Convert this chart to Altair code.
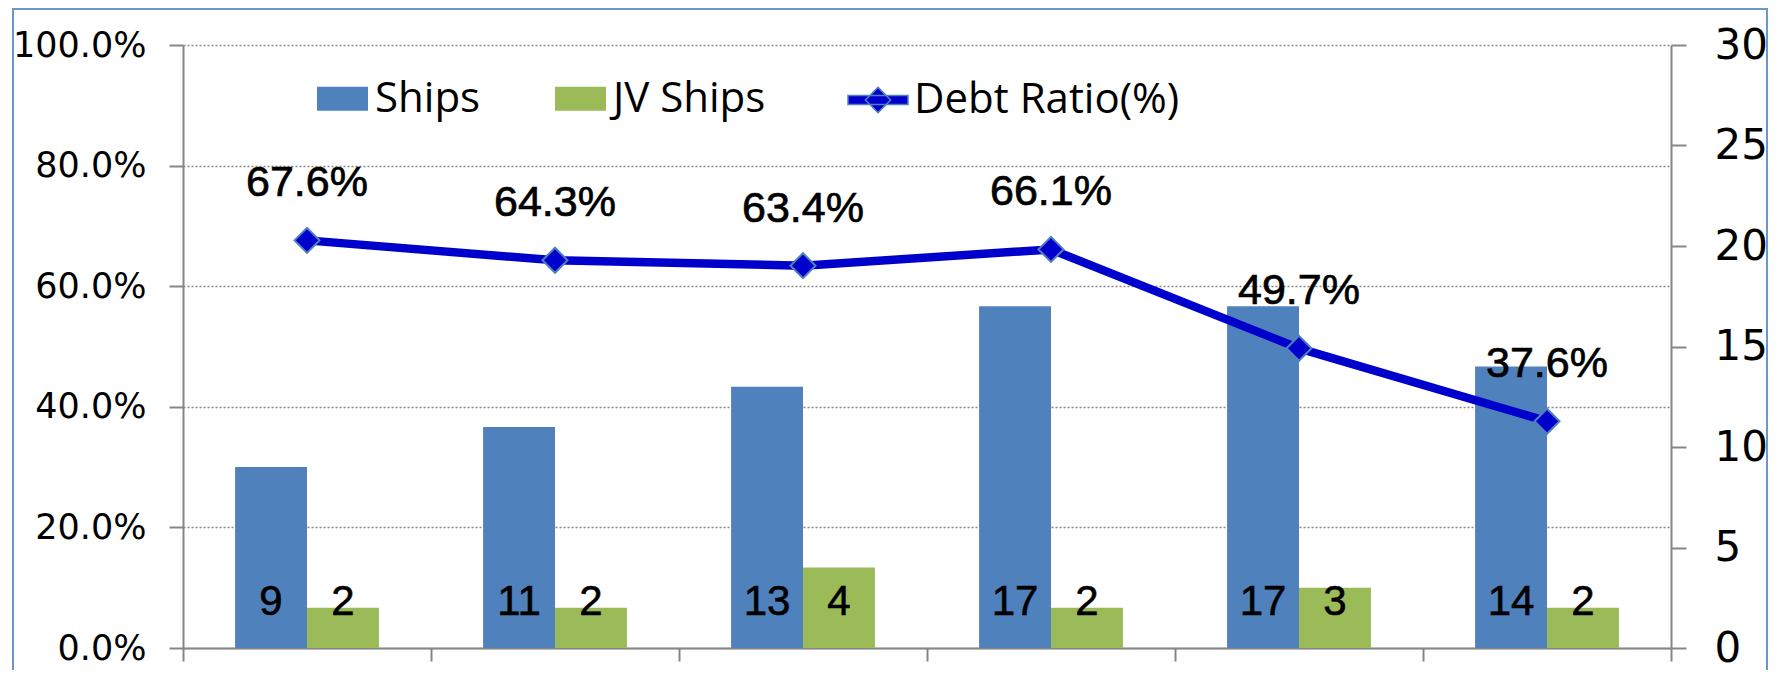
import altair as alt
import pandas as pd

# ---- data ----
categories = ["P1", "P2", "P3", "P4", "P5", "P6"]
ships = [9, 11, 13, 17, 17, 14]
jv_ships = [2, 2, 4, 2, 3, 2]
debt_ratio = [67.6, 64.3, 63.4, 66.1, 49.7, 37.6]
series_names = ["Ships", "JV Ships"]
line_name = "Debt Ratio(%)"
left_ticks = [0, 0.2, 0.4, 0.6, 0.8, 1.0]
right_ticks = [0, 5, 10, 15, 20, 25, 30]

# ---- styles ----
bar_colors = ["#4F81BD", "#9BBB59"]
line_color = "#0000CC"
marker_edge = "#4F81BD"
gray = "#868686"
border_color = "#6E97C9"
axis_font = "DejaVu Sans"
narrow_font = "Liberation Sans"
legend_font = "Open Sans"

bars_df = pd.DataFrame({
    "cat": categories * 2,
    "series": [series_names[0]] * len(categories) + [series_names[1]] * len(categories),
    "count": ships + jv_ships,
})
line_df = pd.DataFrame({
    "cat": categories,
    "ratio": [v / 100 for v in debt_ratio],
    "label": [f"{v:.1f}%" for v in debt_ratio],
    "name": [line_name] * len(categories),
})

x_enc = alt.X(
    "cat:N", sort=categories,
    scale=alt.Scale(paddingInner=0, paddingOuter=0),
    axis=alt.Axis(labels=False, title=None, bandPosition=1, tickExtra=True,
                  tickSize=13, grid=False, domainColor=gray, tickColor=gray,
                  domainWidth=2, tickWidth=2),
)
xoff = alt.XOffset("series:N", sort=series_names,
                   scale=alt.Scale(domain=series_names, paddingInner=0, paddingOuter=0.724))

bar_y = alt.Y(
    "count:Q", scale=alt.Scale(domain=[0, 30]),
    axis=alt.Axis(orient="right", values=right_ticks, title=None, grid=False,
                  tickSize=15, labelPadding=28, labelFont=axis_font, labelFontSize=42,
                  labelColor="black", domainColor=gray, tickColor=gray,
                  domainWidth=2, tickWidth=2),
)

bars = alt.Chart(bars_df).mark_bar().encode(
    x=x_enc, xOffset=xoff, y=bar_y,
    color=alt.Color(
        "series:N", scale=alt.Scale(domain=series_names, range=bar_colors),
        legend=alt.Legend(orient="none", legendX=134, legendY=28, direction="horizontal",
                          title=None, symbolType="M-1,-0.47H1V0.47H-1Z", symbolSize=2601,
                          symbolStrokeWidth=0, labelFont=legend_font, labelFontSize=42,
                          labelColor="black", labelOffset=7, columnPadding=74, padding=0,
                          symbolOpacity=1, labelLimit=500),
    ),
)
bar_text = alt.Chart(bars_df).mark_text(
    dy=-46, baseline="middle", font=narrow_font, fontSize=42, color="black",
    stroke="black", strokeWidth=0.6
).encode(x=x_enc, xOffset=xoff, y=alt.YDatum(0), text="count:Q")

line_y = alt.Y(
    "ratio:Q", scale=alt.Scale(domain=[0, 1]),
    axis=alt.Axis(orient="left", format=".1%", values=left_ticks, title=None, grid=True,
                  gridDash=[2, 2], gridColor=gray, gridWidth=1.5, tickSize=14,
                  labelPadding=23, labelFont=axis_font, labelFontSize=35,
                  labelColor="black", domainColor=gray, tickColor=gray,
                  domainWidth=2, tickWidth=2),
)
line = alt.Chart(line_df).mark_line(
    color=line_color, strokeWidth=8.5, strokeCap="round", strokeJoin="round"
).encode(x=x_enc, y=line_y)
points = alt.Chart(line_df).mark_point(
    shape="diamond", filled=True, size=625, stroke=marker_edge, strokeWidth=2, opacity=1
).encode(
    x=x_enc, y=line_y,
    fill=alt.Fill(
        "name:N", scale=alt.Scale(domain=[line_name], range=[line_color]),
        legend=alt.Legend(orient="none", legendX=664, legendY=24, title=None,
                          symbolType="M-1,-0.15H1V0.15H-1Z M0,-0.42L0.42,0L0,0.42L-0.42,0Z",
                          symbolSize=3600, symbolStrokeColor=marker_edge,
                          symbolStrokeWidth=1.5, labelFont=legend_font, labelFontSize=42,
                          labelColor="black", labelOffset=5, padding=0, symbolOpacity=1,
                          labelLimit=500),
    ),
)
labels = alt.Chart(line_df).mark_text(
    dy=-57, baseline="middle", font=narrow_font, fontSize=43, color="black",
    stroke="black", strokeWidth=0.7
).encode(x=x_enc, y=line_y, text="label:N")

border = alt.Chart(pd.DataFrame({"k": [0]})).mark_rect(
    fillOpacity=0, stroke=border_color, strokeWidth=2
).encode(x=alt.value(-170), x2=alt.value(1584), y=alt.value(-36), y2=alt.value(700))

bar_layer = alt.layer(bars, bar_text)
line_layer = alt.layer(line, points, labels)

chart = alt.layer(border, bar_layer, line_layer).resolve_scale(
    y="independent"
).properties(
    width=1488, height=603,
    padding={"left": 175, "top": 37, "right": 98, "bottom": 22},
    autosize=alt.AutoSizeParams(type="none"),
    background="white",
).configure_view(strokeWidth=0)

chart.save("out.html", embed_options={"renderer": "svg", "actions": False})
